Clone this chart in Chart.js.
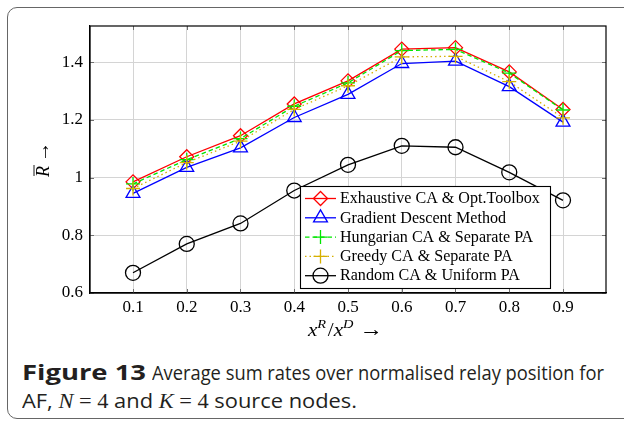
<!DOCTYPE html>
<html><head><meta charset="utf-8">
<script src="https://cdn.jsdelivr.net/npm/chart.js@4.4.1/dist/chart.umd.min.js"></script>
<style>
html,body{margin:0;padding:0;background:#fff;}
body{width:624px;height:422px;position:relative;overflow:hidden;}
#frame{position:absolute;left:7px;top:7px;width:680px;height:412px;border:1.4px solid #666;border-radius:10px;box-sizing:border-box;}
#c{position:absolute;left:0;top:0;}
.seg{position:absolute;font-family:'Open Sans',sans-serif;font-size:20.5px;color:#231f20;line-height:28px;white-space:nowrap;transform-origin:0 0;}
.seg .m{font-family:'Liberation Serif',serif;font-style:italic;font-size:21px;}
.seg .s{font-family:'Liberation Serif',serif;font-size:21px;}
</style></head>
<body>
<div id="frame"></div>
<canvas id="c" width="624" height="344"></canvas>
<span class="seg" id="sA" data-w="124" style="left:22px;top:358px;font-weight:bold;">Figure 13</span>
<span class="seg" id="sB" data-w="452" style="left:152px;top:358px;">Average sum rates over normalised relay position for</span>
<span class="seg" id="sC" data-w="335" style="left:22px;top:386px;">AF, <span class="m">N</span><span class="s">&#8197;=&#8197;4</span> and <span class="m">K</span><span class="s">&#8197;=&#8197;4</span> source nodes.</span>
<script>
// ---- data ----
const xValues = [0.1, 0.2, 0.3, 0.4, 0.5, 0.6, 0.7, 0.8, 0.9];
const exhaustiveCA = [0.985, 1.072, 1.145, 1.255, 1.335, 1.445, 1.450, 1.366, 1.236];
const gradientDescent = [0.945, 1.035, 1.103, 1.208, 1.288, 1.395, 1.403, 1.315, 1.192];
const hungarianCA = [0.978, 1.062, 1.135, 1.247, 1.328, 1.440, 1.444, 1.362, 1.234];
const greedyCA = [0.962, 1.052, 1.126, 1.236, 1.318, 1.418, 1.420, 1.332, 1.207];
const randomCA = [0.670, 0.770, 0.841, 0.955, 1.044, 1.110, 1.105, 1.018, 0.921];
const seriesLabels = ['Exhaustive CA & Opt.Toolbox', 'Gradient Descent Method', 'Hungarian CA & Separate PA', 'Greedy CA & Separate PA', 'Random CA & Uniform PA'];
const xTickValues = [0.1, 0.2, 0.3, 0.4, 0.5, 0.6, 0.7, 0.8, 0.9];
const xTickLabels = ['0.1', '0.2', '0.3', '0.4', '0.5', '0.6', '0.7', '0.8', '0.9'];
const yTickValues = [0.6, 0.8, 1.0, 1.2, 1.4];
const yTickLabels = ['0.6', '0.8', '1', '1.2', '1.4'];

// ---- caption fit ----
function fitCaption(){
  document.querySelectorAll('.seg').forEach(el => {
    el.style.transform = 'none';
    const w = el.getBoundingClientRect().width;
    el.style.transform = 'scaleX(' + (parseFloat(el.dataset.w) / w) + ')';
  });
}
fitCaption();
if (document.fonts && document.fonts.ready) document.fonts.ready.then(fitCaption);

function mk(label, arr, color, style, radius, dash, order){
  return {
    label: label,
    data: xValues.map((x, i) => ({x: x, y: arr[i]})),
    borderColor: color, backgroundColor: 'rgba(0,0,0,0)',
    borderWidth: 1.3, borderDash: dash,
    pointStyle: style, pointRadius: radius, pointHoverRadius: radius,
    pointBorderColor: color, pointBackgroundColor: 'rgba(0,0,0,0)', pointBorderWidth: 1.3,
    tension: 0, fill: false, order: order
  };
}

const SERIF = '"Liberation Serif", serif';

const decor = {
  id: 'decor',
  beforeDatasetsDraw(chart){
    const {ctx, chartArea: a, scales: {x, y}} = chart;
    ctx.save();
    ctx.strokeStyle = '#707070'; ctx.lineWidth = 1;
    ctx.beginPath();
    xTickValues.forEach(v => {
      const px = Math.round(x.getPixelForValue(v)) + 0.5;
      ctx.moveTo(px, a.top); ctx.lineTo(px, a.top + 4);
      ctx.moveTo(px, a.bottom); ctx.lineTo(px, a.bottom - 4);
    });
    yTickValues.forEach(v => {
      const py = Math.round(y.getPixelForValue(v)) + 0.5;
      ctx.moveTo(a.left, py); ctx.lineTo(a.left + 4, py);
      ctx.moveTo(a.right, py); ctx.lineTo(a.right - 4, py);
    });
    ctx.stroke();
    ctx.strokeStyle = '#000'; ctx.lineWidth = 1.2;
    ctx.strokeRect(a.left, a.top, a.width, a.height);
    ctx.restore();
  },
  afterDraw(chart){
    const {ctx, chartArea: a} = chart;
    ctx.save();
    // legend box
    const bx = 300, by = 186, bw = 250, bh = 102;
    ctx.fillStyle = '#fff'; ctx.fillRect(bx, by, bw, bh);
    ctx.strokeStyle = '#000'; ctx.lineWidth = 1.1; ctx.strokeRect(bx + 0.5, by + 0.5, bw, bh);
    ctx.font = '14px ' + SERIF;
    const w0 = ctx.measureText(chart.data.datasets[0].label).width;
    const fs = 14 * 200 / w0;
    chart.data.datasets.forEach((ds, i) => {
      const cy = 198.5 + i * 19.3;
      ctx.save();
      ctx.strokeStyle = ds.borderColor; ctx.lineWidth = ds.borderWidth;
      ctx.setLineDash(ds.borderDash || []);
      ctx.beginPath(); ctx.moveTo(305, cy); ctx.lineTo(336, cy); ctx.stroke();
      ctx.setLineDash([]);
      ctx.lineWidth = ds.pointBorderWidth; ctx.fillStyle = 'rgba(0,0,0,0)';
      Chart.helpers.drawPoint(ctx, {pointStyle: ds.pointStyle, radius: ds.pointRadius, rotation: 0, borderWidth: ds.pointBorderWidth}, 320.5, cy);
      ctx.restore();
      ctx.fillStyle = '#000'; ctx.textBaseline = 'middle'; ctx.textAlign = 'left';
      ctx.font = fs + 'px ' + SERIF;
      ctx.fillText(ds.label, 340, cy + 0.5);
    });
    // x axis title: x^R / x^D ->
    const parts = [
      {t: 'x', f: 'italic 19px ' + SERIF, dy: 0},
      {t: 'R', f: 'italic 13px ' + SERIF, dy: -8},
      {t: '/', f: '19px ' + SERIF, dy: 0},
      {t: 'x', f: 'italic 19px ' + SERIF, dy: 0},
      {t: 'D', f: 'italic 13px ' + SERIF, dy: -8},
      {t: '\u2009\u2192', f: '21px ' + SERIF, dy: 0}
    ];
    let tw = 0;
    parts.forEach(p => { ctx.font = p.f; p.w = ctx.measureText(p.t).width + (p.dy ? 1.5 : 0); tw += p.w; });
    const target = 75;
    ctx.fillStyle = '#000'; ctx.textBaseline = 'alphabetic'; ctx.textAlign = 'left';
    ctx.save();
    ctx.translate(308, 336);
    ctx.scale(target / tw, 1);
    let px = 0;
    parts.forEach(p => { ctx.font = p.f; ctx.fillText(p.t, px, p.dy); px += p.w; });
    ctx.restore();
    // y axis title: R-bar ->
    ctx.translate(49, (a.top + a.bottom) / 2);
    ctx.rotate(-Math.PI / 2);
    ctx.font = 'italic 18px ' + SERIF;
    const rw = ctx.measureText('R').width;
    ctx.font = '20px ' + SERIF;
    const aw = ctx.measureText('\u2009\u2192').width;
    const sx = -(rw + aw) / 2;
    ctx.font = 'italic 18px ' + SERIF;
    ctx.fillText('R', sx, 0);
    ctx.lineWidth = 0.9; ctx.strokeStyle = '#000';
    ctx.beginPath(); ctx.moveTo(sx + 1, -15); ctx.lineTo(sx + rw + 1, -15); ctx.stroke();
    ctx.font = '20px ' + SERIF;
    ctx.fillText('\u2009\u2192', sx + rw, 0);
    ctx.restore();
  }
};

new Chart(document.getElementById('c'), {
  type: 'line',
  data: {datasets: [
    mk(seriesLabels[0], exhaustiveCA, '#ff0000', 'rectRot', 7, [], 5),
    mk(seriesLabels[1], gradientDescent, '#0000ff', 'triangle', 8, [], 4),
    mk(seriesLabels[2], hungarianCA, '#00e600', 'cross', 7, [4.5, 3], 3),
    mk(seriesLabels[3], greedyCA, '#d6b000', 'cross', 7, [1.5, 3], 2),
    mk(seriesLabels[4], randomCA, '#000000', 'circle', 7.5, [], 1)
  ]},
  options: {
    responsive: false, animation: false,
    layout: {padding: {top: 26, right: 18, left: 0, bottom: 0}},
    plugins: {legend: {display: false}, tooltip: {enabled: false}},
    scales: {
      x: {
        type: 'linear', min: 0.02, max: 0.98,
        afterBuildTicks(s){ s.ticks = xTickValues.map(v => ({value: v})); },
        afterFit(s){ s.height = 51; },
        ticks: {callback: (v, i) => xTickLabels[i], font: {family: 'Liberation Serif', size: 17}, color: '#000', padding: 4, maxRotation: 0, autoSkip: false},
        grid: {color: '#d4d4d4', lineWidth: 1, drawTicks: false},
        border: {display: true, color: '#000', width: 1.2}
      },
      y: {
        type: 'linear', min: 0.6, max: 1.525,
        afterBuildTicks(s){ s.ticks = yTickValues.map(v => ({value: v})); },
        afterFit(s){ s.width = 90; },
        ticks: {callback: (v, i) => yTickLabels[i], font: {family: 'Liberation Serif', size: 17}, color: '#000', padding: 7, autoSkip: false},
        grid: {color: '#d4d4d4', lineWidth: 1, drawTicks: false},
        border: {display: true, color: '#000', width: 1.2}
      }
    }
  },
  plugins: [decor]
});
</script>
</body></html>
